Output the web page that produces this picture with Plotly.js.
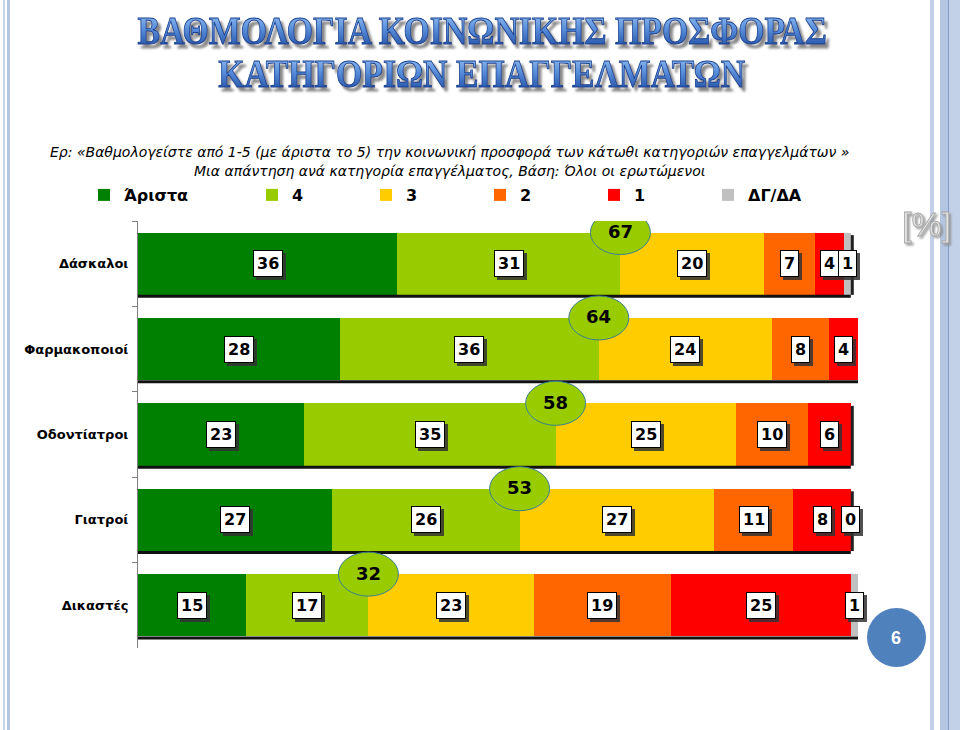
<!DOCTYPE html>
<html>
<head>
<meta charset="utf-8">
<script src="https://cdn.plot.ly/plotly-3.0.1.min.js"></script>
<style>
  html, body { margin:0; padding:0; background:#fff; }
  #wrap { position:relative; width:960px; height:730px; overflow:hidden; background:#fff; }
  #chart { position:absolute; left:0; top:0; width:960px; height:730px; z-index:2; }
  .deco { position:absolute; top:0; height:730px; pointer-events:none; z-index:1; }
</style>
</head>
<body>
<svg width="0" height="0" style="position:absolute">
  <defs>
    <linearGradient id="titleGrad" x1="0" y1="0" x2="0" y2="1">
      <stop offset="0" stop-color="#a8ccf4"/>
      <stop offset="0.45" stop-color="#5a90dc"/>
      <stop offset="1" stop-color="#163f96"/>
    </linearGradient>
    <filter id="dropTitle" x="-5%" y="-20%" width="110%" height="150%">
      <feDropShadow dx="3" dy="3" stdDeviation="1" flood-color="#7a7a7a" flood-opacity="0.9"/>
    </filter>
    <filter id="dropBox" x="-20%" y="-20%" width="150%" height="150%">
      <feDropShadow dx="3" dy="3" stdDeviation="0.6" flood-color="#333" flood-opacity="0.85"/>
    </filter>
    <filter id="dropUnit" x="-20%" y="-20%" width="150%" height="150%">
      <feDropShadow dx="2" dy="2" stdDeviation="1" flood-color="#888" flood-opacity="0.8"/>
    </filter>
  </defs>
</svg>
<div id="wrap">
  <div class="deco" style="left:3px;width:2px;background:#c9d5e8"></div>
  <div class="deco" style="left:7px;width:3px;background:#b4c6e2"></div>
  <div class="deco" style="left:930px;width:4px;background:#c3d1e8"></div>
  <div class="deco" style="left:940px;width:8px;background:#b4c6e2"></div>
  <div class="deco" style="left:948px;width:1px;background:#7f9bc8"></div>
  <div class="deco" style="left:949px;width:11px;background:#c3d1e8"></div>
  <div id="chart"></div>
</div>
<script>
// ---------------- DATA ----------------
const categories = ['Δάσκαλοι', 'Φαρμακοποιοί', 'Οδοντίατροι', 'Γιατροί', 'Δικαστές'];
const seriesNames = ['Άριστα', '4', '3', '2', '1', 'ΔΓ/ΔΑ'];
const aristo = [36, 28, 23, 27, 15];
const rate4  = [31, 36, 35, 26, 17];
const rate3  = [20, 24, 25, 27, 23];
const rate2  = [7, 8, 10, 11, 19];
const rate1  = [4, 4, 6, 8, 25];
const dkda   = [1, null, null, 0, 1];
const seriesColors = ['#008000', '#99cc00', '#ffcc00', '#ff6600', '#ff0000', '#c0c0c0'];

const titleLines = ['ΒΑΘΜΟΛΟΓΙΑ ΚΟΙΝΩΝΙΚΗΣ ΠΡΟΣΦΟΡΑΣ', 'ΚΑΤΗΓΟΡΙΩΝ ΕΠΑΓΓΕΛΜΑΤΩΝ'];
const subtitleLines = [
  'Ερ: «Βαθμολογείστε από 1-5 (με άριστα το 5) την κοινωνική προσφορά των κάτωθι κατηγοριών επαγγελμάτων »',
  'Μια απάντηση ανά κατηγορία επαγγέλματος, Βάση: Όλοι οι ερωτώμενοι'
];
const unitLabel = '[%]';
const pageNumber = '6';

// ---------------- LAYOUT GEOMETRY ----------------
const W = 960, H = 730;
const M = {l: 138, r: 102, t: 221, b: 82, autoexpand: false};
const plotW = W - M.l - M.r, plotH = H - M.t - M.b;
const px = x => (x - M.l) / plotW;            // page px -> paper x
const py = y => (H - M.b - y) / plotH;         // page px -> paper y
const HALF = 0.365;                            // half bar thickness (category units)

const allSeries = [aristo, rate4, rate3, rate2, rate1, dkda];
const BOLD = 'DejaVu Sans, Verdana, sans-serif';

// ---------------- TRACES ----------------
const traces = allSeries.map((vals, k) => ({
  type: 'bar',
  orientation: 'h',
  name: seriesNames[k],
  y: categories,
  x: vals,
  marker: {color: seriesColors[k], line: {width: 0}},
  legend: k === 0 ? 'legend2' : 'legend',
  hoverinfo: 'skip'
}));

// ---------------- ANNOTATIONS / SHAPES ----------------
const annotations = [];
const shapes = [];

categories.forEach((cat, i) => {
  let cum = 0;
  allSeries.forEach((vals) => {
    const v = vals[i];
    if (v === null || v === undefined) return;
    annotations.push({
      xref: 'x', yref: 'y', x: cum + v / 2, y: i, text: String(v), showarrow: false,
      xanchor: 'center', yanchor: 'middle',
      font: {family: BOLD, size: 16, color: '#000', weight: 'bold'},
      bgcolor: '#ffffff', bordercolor: '#000', borderwidth: 1, borderpad: 3
    });
    cum += v;
  });
  const total = cum;
  // bar shadow: bottom and right edges
  shapes.push({type: 'rect', layer: 'above', xref: 'x', yref: 'y',
    x0: 0, x1: total, ysizemode: 'pixel', yanchor: i + HALF, y0: -3, y1: 0,
    fillcolor: '#111', line: {width: 0}});
  shapes.push({type: 'rect', layer: 'above', xref: 'x', yref: 'y',
    xsizemode: 'pixel', xanchor: total, x0: 0, x1: 3, y0: i - HALF + 0.03, y1: i + HALF,
    fillcolor: '#222', line: {width: 0}});
  // top-two-box ellipse
  const top2 = aristo[i] + rate4[i];
  shapes.push({type: 'circle', layer: 'above', xref: 'x', yref: 'y',
    xsizemode: 'pixel', xanchor: top2, x0: -30, x1: 30,
    ysizemode: 'pixel', yanchor: i - HALF, y0: -22, y1: 22,
    fillcolor: '#99cc00', line: {color: '#3b7f8f', width: 1}});
  annotations.push({xref: 'x', yref: 'y', x: top2, y: i - HALF, text: String(top2),
    showarrow: false, xanchor: 'center', yanchor: 'middle', yshift: 1,
    font: {family: BOLD, size: 18, color: '#000', weight: 'bold'}});
});

// Title
const titleY = [31, 73];
titleLines.forEach((t, k) => {
  annotations.push({xref: 'paper', yref: 'paper', x: px(482), y: py(titleY[k]), text: t,
    showarrow: false, xanchor: 'center', yanchor: 'middle', borderpad: 0,
    font: {family: 'Liberation Serif, serif', size: 31, color: '#2f63bb', weight: 'bold'}});
});

// Subtitle
const subY = [152, 171];
subtitleLines.forEach((t, k) => {
  annotations.push({xref: 'paper', yref: 'paper', x: px(449), y: py(subY[k]), text: t,
    showarrow: false, xanchor: 'center', yanchor: 'middle',
    font: {family: 'DejaVu Sans, sans-serif', size: 14, color: '#000', style: 'italic'}});
});

// [%] label
annotations.push({xref: 'paper', yref: 'paper', x: px(926), y: py(224), text: unitLabel,
  showarrow: false, xanchor: 'center', yanchor: 'middle',
  font: {family: 'Liberation Sans, sans-serif', size: 34, color: '#e2e2e2'}});

// Page number circle
shapes.push({type: 'circle', xref: 'paper', yref: 'paper', layer: 'above',
  x0: px(867), x1: px(926), y0: py(667), y1: py(608),
  fillcolor: '#4f81bd', line: {width: 0}});
annotations.push({xref: 'paper', yref: 'paper', x: px(896), y: py(638), text: pageNumber,
  showarrow: false, xanchor: 'center', yanchor: 'middle',
  font: {family: 'Liberation Sans, sans-serif', size: 18, color: '#fff', weight: 'bold'}});

const legendFont = {family: BOLD, size: 16, color: '#000', weight: 'bold'};

const layout = {
  width: W, height: H,
  margin: M,
  paper_bgcolor: 'rgba(0,0,0,0)', plot_bgcolor: '#fff',
  barmode: 'stack',
  bargap: 0.27,
  showlegend: true,
  legend: {orientation: 'h', xref: 'container', yref: 'container',
    x: 252 / W, y: 1 - 195 / H, xanchor: 'left', yanchor: 'middle',
    traceorder: 'normal', entrywidth: 69, entrywidthmode: 'pixels',
    font: legendFont, bgcolor: 'rgba(0,0,0,0)'},
  legend2: {orientation: 'h', xref: 'container', yref: 'container',
    x: 84 / W, y: 1 - 195 / H, xanchor: 'left', yanchor: 'middle',
    font: legendFont, bgcolor: 'rgba(0,0,0,0)'},
  xaxis: {range: [0, 100], visible: false, fixedrange: true},
  yaxis: {type: 'category', range: [categories.length - 0.5, -0.5], autorange: false,
    showline: true, linecolor: '#7f7f7f', linewidth: 1,
    ticks: 'outside', ticklen: 5, tickcolor: '#7f7f7f', tickson: 'boundaries',
    ticklabelstandoff: 6,
    showgrid: false, zeroline: false, fixedrange: true,
    tickfont: {family: BOLD, size: 13, color: '#000', weight: 'bold'}},
  annotations: annotations,
  shapes: shapes
};

Plotly.newPlot('chart', traces, layout, {displayModeBar: false, staticPlot: true}).then(gd => {
  gd.querySelectorAll('.annotation-text').forEach(el => {
    const t = el.textContent;
    if (titleLines.indexOf(t) >= 0) {
      el.style.transformBox = 'fill-box';
      el.style.transformOrigin = 'center';
      el.style.transform = 'scale(1.09, 1.32)';
      el.style.fill = 'url(#titleGrad)';
      el.style.stroke = '#17408f';
      el.style.strokeWidth = '0.7px';
      el.style.filter = 'url(#dropTitle)';
    } else if (t === unitLabel) {
      el.style.stroke = '#a5a5a5';
      el.style.strokeWidth = '0.8px';
      el.style.filter = 'url(#dropUnit)';
    }
  });
  gd.querySelectorAll('.annotation rect.bg').forEach(r => {
    const f = (r.getAttribute('style') || '') + ' ' + (r.getAttribute('fill') || '');
    if (/255, 255, 255|#ffffff|#fff\b/i.test(f)) r.style.filter = 'url(#dropBox)';
  });
});
</script>
</body>
</html>
